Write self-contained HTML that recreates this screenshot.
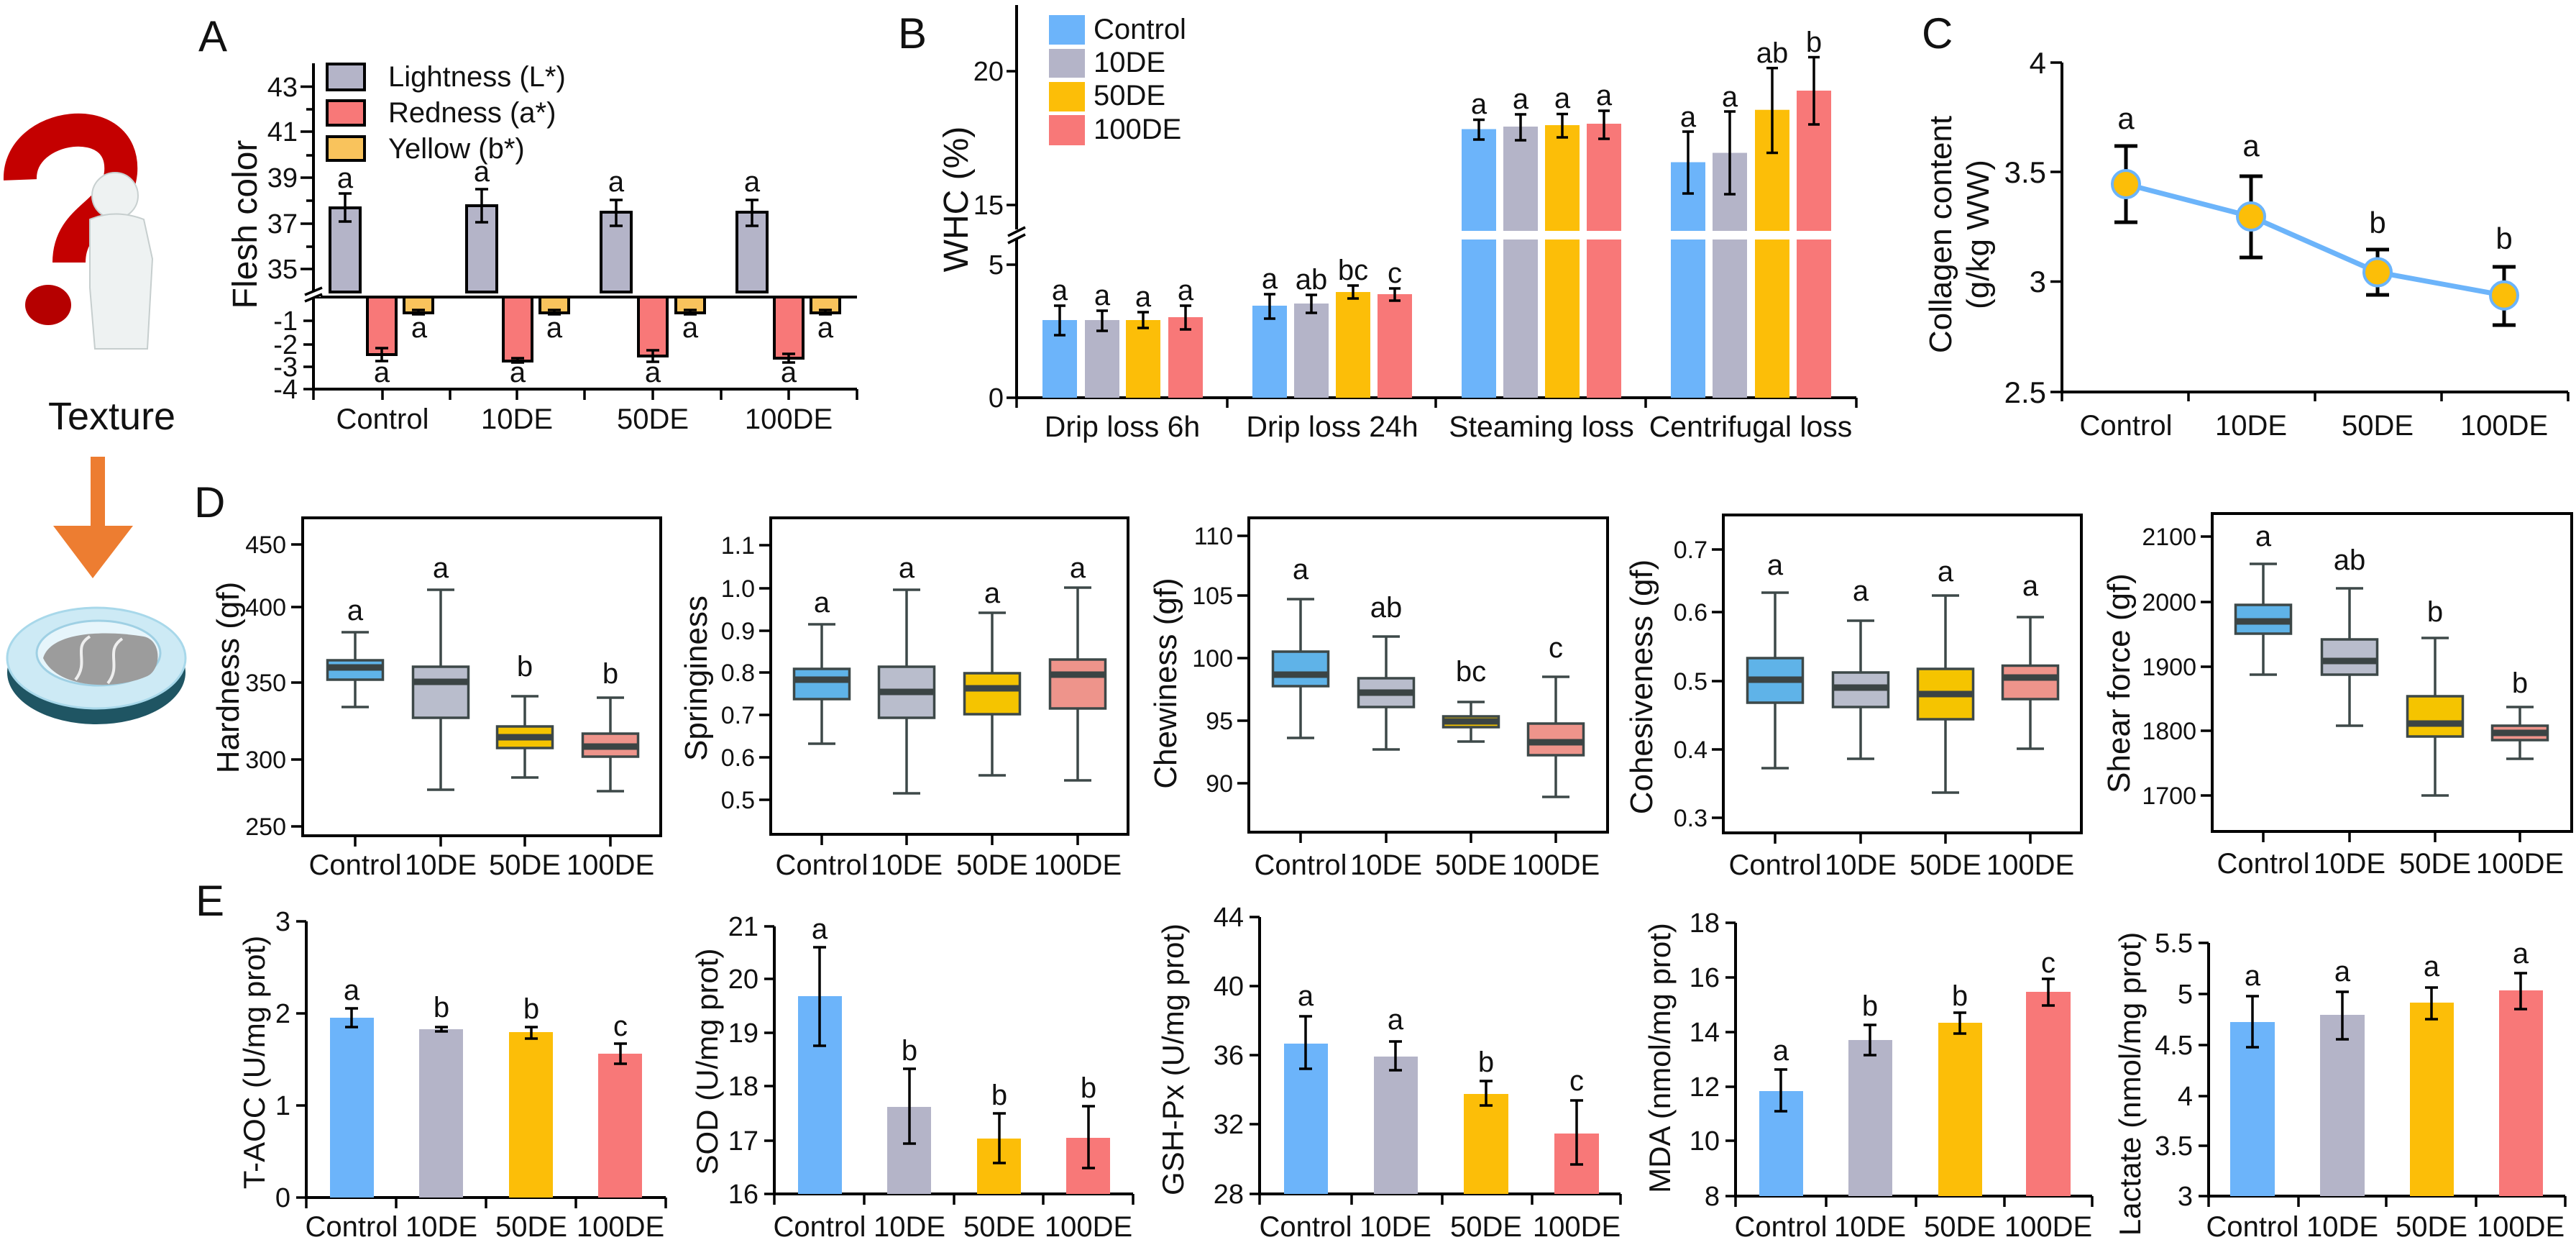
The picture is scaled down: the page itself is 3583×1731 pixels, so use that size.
<!DOCTYPE html>
<html><head><meta charset="utf-8"><style>
html,body{margin:0;padding:0;background:#fff}
svg{display:block}
text{font-family:"Liberation Sans",Arial,sans-serif;fill:#111}
.ax{stroke:#000;stroke-width:4;fill:none}
.tk{stroke:#000;stroke-width:3.5}
.eb{stroke:#000;stroke-width:3.5;fill:none}
.wk{stroke:#3d4848;stroke-width:3.5;fill:none}
.bx{stroke:#3d4848;stroke-width:3.5}
.md{stroke:#3b4444;stroke-width:9}
.t34{font-size:34px}.t38{font-size:38px}.t40{font-size:40px}.t42{font-size:42px}.t44{font-size:44px}.t60{font-size:60px}
.m{text-anchor:middle}.e{text-anchor:end}
</style></head><body>
<svg width="3583" height="1731" viewBox="0 0 3583 1731" xmlns="http://www.w3.org/2000/svg">

<!-- Left illustration -->
<path d="M28,250 C25,170 175,150 168,240 C162,300 96,300 96,365" stroke="#c40000" stroke-width="46" fill="none" stroke-linecap="butt"/>
<ellipse cx="67" cy="424" rx="32" ry="28" fill="#b50000"/>
<circle cx="160" cy="272" r="32" fill="#eef2f2" stroke="#c8d0d0" stroke-width="2"/>
<path d="M125,305 Q160,290 200,305 L212,360 L205,485 L132,485 L125,400 Z" fill="#eef2f2" stroke="#c6cece" stroke-width="2"/>
<text x="67" y="597" style="font-size:54px">Texture</text>
<rect x="126" y="635" width="20" height="97" fill="#ed7d31"/>
<polygon points="74,731 185,731 129,804" fill="#ed7d31"/>
<ellipse cx="134" cy="935" rx="124" ry="72" fill="#1f5563"/>
<ellipse cx="134" cy="915" rx="124" ry="70" fill="#cdeaf5" stroke="#a8d8ea" stroke-width="3"/>
<ellipse cx="137" cy="908" rx="86" ry="45" fill="#e6f5fb" stroke="#9fd0e4" stroke-width="3"/>
<path d="M60,915 C70,880 140,875 200,885 C225,890 225,930 205,940 C160,960 80,958 60,915 Z" fill="#9c9c9c"/>
<path d="M105,945 C125,920 100,900 125,885 M150,950 C170,925 145,905 170,888" stroke="#eee" stroke-width="4" fill="none"/>

<!-- Panel A -->
<text x="276" y="71" class="t60">A</text>
<rect x="455" y="89" width="52" height="36" fill="#b4b4c8" stroke="#000" stroke-width="4"/>
<rect x="455" y="140" width="52" height="34" fill="#f87878" stroke="#000" stroke-width="4"/>
<rect x="455" y="190" width="52" height="33" fill="#f9c35c" stroke="#000" stroke-width="4"/>
<text x="540" y="120" class="t40">Lightness (L*)</text>
<text x="540" y="170" class="t40">Redness (a*)</text>
<text x="540" y="220" class="t40">Yellow (b*)</text>
<path class="ax" d="M436,88 V405 M436,413 V541 H1192 M436,413 H1192"/>
<path class="tk" d="M418,120.5H436M418,183H436M418,247H436M418,311H436M418,374H436M426,152H436M426,216H436M426,279H436M426,343H436M422,446H436M422,479H436M422,510H436M422,541H436"/>
<path stroke="#fff" stroke-width="8" d="M426,409 H446"/>
<path class="tk" d="M424,410 L448,400 M424,419 L448,409"/>
<path class="tk" d="M436,541V556M532,541V556M626,541V556M719,541V556M813,541V556M908,541V556M1003,541V556M1097,541V556M1192,541V556"/>
<g class="t38 e"><text x="414" y="134">43</text><text x="414" y="196">41</text><text x="414" y="260">39</text><text x="414" y="324">37</text><text x="414" y="387">35</text><text x="414" y="459">-1</text><text x="414" y="492">-2</text><text x="414" y="523">-3</text><text x="414" y="554">-4</text></g>
<g fill="#b4b4c8" stroke="#000" stroke-width="4">
<rect x="459" y="289" width="42" height="117"/><rect x="649" y="286" width="42" height="120"/><rect x="836" y="295" width="42" height="111"/><rect x="1025" y="295" width="42" height="111"/></g>
<g fill="#f87878" stroke="#000" stroke-width="4">
<rect x="511" y="413" width="40" height="80"/><rect x="700" y="413" width="40" height="89"/><rect x="888" y="413" width="40" height="82"/><rect x="1077" y="413" width="40" height="85"/></g>
<g fill="#f9c35c" stroke="#000" stroke-width="4">
<rect x="562" y="413" width="40" height="22"/><rect x="751" y="413" width="40" height="22"/><rect x="940" y="413" width="40" height="22"/><rect x="1128" y="413" width="40" height="22"/></g>
<path class="eb" d="M480,269V308M471,269H489M471,308H489 M670,263V309M661,263H679M661,309H679 M857,278V314M848,278H866M848,314H866 M1046,278V314M1037,278H1055M1037,314H1055
M531,484V502M522,484H540M522,502H540 M720,498V504M711,498H729M711,504H729 M908,487V503M899,487H917M899,503H917 M1097,492V504M1088,492H1106M1088,504H1106
M582,431V437M573,431H591M573,437H591 M771,431V437M762,431H780M762,437H780 M960,431V437M951,431H969M951,437H969 M1148,431V437M1139,431H1157M1139,437H1157"/>
<g class="t40 m"><text x="480" y="261">a</text><text x="670" y="252">a</text><text x="857" y="266">a</text><text x="1046" y="266">a</text>
<text x="531" y="531">a</text><text x="720" y="531">a</text><text x="908" y="531">a</text><text x="1097" y="531">a</text>
<text x="583" y="469">a</text><text x="771" y="469">a</text><text x="960" y="469">a</text><text x="1148" y="469">a</text>
<text x="532" y="596">Control</text><text x="719" y="596">10DE</text><text x="908" y="596">50DE</text><text x="1097" y="596">100DE</text></g>
<text transform="translate(357,312) rotate(-90)" class="m" style="font-size:48px">Flesh color</text>

<!-- Panel B -->
<text x="1249" y="67" class="t60">B</text>
<path class="ax" d="M1414,7 V319 M1414,333 V553 H2582"/>
<path class="tk" d="M1400,99H1414M1400,285H1414M1400,368H1414M1400,553H1414 M1414,553V567M1707,553V567M1997,553V567M2289,553V567M2582,553V567"/>
<path class="tk" d="M1402,328 L1426,316 M1402,338 L1426,326"/>
<g class="t38 e"><text x="1396" y="112">20</text><text x="1396" y="298">15</text><text x="1396" y="381">5</text><text x="1396" y="566">0</text></g>
<rect x="1459" y="21" width="50" height="41" fill="#6cb4fa"/><rect x="1459" y="68" width="50" height="40" fill="#b4b4c8"/><rect x="1459" y="114" width="50" height="41" fill="#fcbe08"/><rect x="1459" y="160" width="50" height="42" fill="#f87878"/>
<g class="t40"><text x="1521" y="54">Control</text><text x="1521" y="100">10DE</text><text x="1521" y="146">50DE</text><text x="1521" y="193">100DE</text></g>
<g fill="#6cb4fa"><rect x="1450" y="445" width="48" height="108"/><rect x="1742" y="425" width="48" height="128"/><rect x="2033" y="333" width="48" height="220"/><rect x="2033" y="179.5" width="48" height="141.5"/><rect x="2324" y="333" width="48" height="220"/><rect x="2324" y="225.5" width="48" height="95.5"/></g>
<g fill="#b4b4c8"><rect x="1509" y="445" width="48" height="108"/><rect x="1800" y="422" width="48" height="131"/><rect x="2091" y="333" width="48" height="220"/><rect x="2091" y="176" width="48" height="145"/><rect x="2382" y="333" width="48" height="220"/><rect x="2382" y="212.5" width="48" height="108.5"/></g>
<g fill="#fcbe08"><rect x="1566" y="445" width="48" height="108"/><rect x="1858" y="406" width="48" height="147"/><rect x="2149" y="333" width="48" height="220"/><rect x="2149" y="174" width="48" height="147"/><rect x="2441" y="333" width="48" height="220"/><rect x="2441" y="152.7" width="48" height="168.3"/></g>
<g fill="#f87878"><rect x="1625" y="441" width="48" height="112"/><rect x="1916" y="409" width="48" height="144"/><rect x="2207" y="333" width="48" height="220"/><rect x="2207" y="172" width="48" height="149"/><rect x="2499" y="333" width="48" height="220"/><rect x="2499" y="126" width="48" height="195"/></g>
<path class="eb" d="M1474,425V466M1466,425H1482M1466,466H1482 M1533,432V460M1525,432H1541M1525,460H1541 M1590,434V456M1582,434H1598M1582,456H1598 M1649,425V458M1641,425H1657M1641,458H1657
M1766,409V443M1758,409H1774M1758,443H1774 M1824,410V435M1816,410H1832M1816,435H1832 M1882,397V415M1874,397H1890M1874,415H1890 M1940,401V418M1932,401H1948M1932,418H1948
M2057,166.5V194M2049,166.5H2065M2049,194H2065 M2115,159V195M2107,159H2123M2107,195H2123 M2173,158.5V191M2165,158.5H2181M2165,191H2181 M2231,154V193M2223,154H2239M2223,193H2239
M2348,183V269M2340,183H2356M2340,269H2356 M2406,155V270M2398,155H2414M2398,270H2414 M2465,94.6V212.5M2457,94.6H2473M2457,212.5H2473 M2523,79.5V173M2515,79.5H2531M2515,173H2531"/>
<g class="t40 m"><text x="1474" y="417">a</text><text x="1533" y="424">a</text><text x="1590" y="426">a</text><text x="1649" y="417">a</text>
<text x="1766" y="401">a</text><text x="1824" y="402">ab</text><text x="1882" y="389">bc</text><text x="1940" y="393">c</text>
<text x="2057" y="158">a</text><text x="2115" y="151">a</text><text x="2173" y="150">a</text><text x="2231" y="146">a</text>
<text x="2348" y="176">a</text><text x="2406" y="148">a</text><text x="2465" y="87">ab</text><text x="2523" y="72">b</text></g>
<g class="m" style="font-size:41px"><text x="1561" y="607">Drip loss 6h</text><text x="1853" y="607">Drip loss 24h</text><text x="2144" y="607">Steaming loss</text><text x="2435" y="607">Centrifugal loss</text></g>
<text transform="translate(1346,277) rotate(-90)" class="m" style="font-size:48px">WHC  (%)</text>

<!-- Panel C -->
<text x="2673" y="67" class="t60">C</text>
<path class="ax" d="M2868,87 V545 H3572"/>
<path class="tk" d="M2852,87H2868M2852,239H2868M2852,391.5H2868M2852,545H2868 M2868,545V558M3044,545V558M3220,545V558M3396,545V558M3572,545V558"/>
<g class="t42 e"><text x="2846" y="102">4</text><text x="2846" y="254">3.5</text><text x="2846" y="406">3</text><text x="2846" y="560">2.5</text></g>
<polyline points="2957,256 3131,301 3307,378.5 3483,410.7" fill="none" stroke="#6cb4fa" stroke-width="7"/>
<path class="eb" style="stroke-width:5" d="M2957,203V309M2941,203H2973M2941,309H2973 M3131,245V358M3115,245H3147M3115,358H3147 M3307,347V410M3291,347H3323M3291,410H3323 M3483,371V452M3467,371H3499M3467,452H3499"/>
<g fill="#fcbe08" stroke="#6cb4fa" stroke-width="4"><circle cx="2957" cy="256" r="19"/><circle cx="3131" cy="301" r="19"/><circle cx="3307" cy="378.5" r="19"/><circle cx="3483" cy="410.7" r="19"/></g>
<g class="t42 m"><text x="2957" y="179">a</text><text x="3131" y="217">a</text><text x="3307" y="324">b</text><text x="3483" y="346">b</text></g>
<g class="t40 m"><text x="2957" y="605">Control</text><text x="3131" y="605">10DE</text><text x="3307" y="605">50DE</text><text x="3483" y="605">100DE</text></g>
<text transform="translate(2714,326) rotate(-90)" class="m" style="font-size:44px">Collagen content</text>
<text transform="translate(2766,326) rotate(-90)" class="m" style="font-size:44px">(g/kg WW)</text>

<!-- Panel D -->
<text x="270" y="719" class="t60">D</text>
<!-- D1 Hardness -->
<rect x="421" y="720" width="498" height="442" class="ax"/>
<path class="tk" d="M405,757H421M405,844H421M405,949H421M405,1056H421M405,1149H421 M494,1162V1177M613,1162V1177M730,1162V1177M849,1162V1177"/>
<g class="t34 e"><text x="398" y="769">450</text><text x="398" y="856">400</text><text x="398" y="961">350</text><text x="398" y="1068">300</text><text x="398" y="1161">250</text></g>
<path class="wk" d="M494,879V983M475,879H513M475,983H513 M613,820V1098M594,820H632M594,1098H632 M730,968V1081M711,968H749M711,1081H749 M849,970V1100M830,970H868M830,1100H868"/>
<rect x="455.5" y="918" width="77" height="27" fill="#5fb3e8" class="bx"/><rect x="574.5" y="927" width="77" height="71" fill="#b9bdcc" class="bx"/><rect x="691.5" y="1010" width="77" height="30" fill="#f5c400" class="bx"/><rect x="810.5" y="1020" width="77" height="32" fill="#ee948b" class="bx"/>
<path class="md" d="M456,928H532M575,948H651M692,1025H768M811,1038H887"/>
<g class="t40 m"><text x="494" y="862">a</text><text x="613" y="803">a</text><text x="730" y="940">b</text><text x="849" y="950">b</text>
<text x="494" y="1216">Control</text><text x="613" y="1216">10DE</text><text x="730" y="1216">50DE</text><text x="849" y="1216">100DE</text></g>
<text transform="translate(332,942) rotate(-90)" class="m t44">Hardness  (gf)</text>
<!-- D2 Springiness -->
<rect x="1072" y="720" width="497" height="440" class="ax"/>
<path class="tk" d="M1056,758H1072M1056,818H1072M1056,877H1072M1056,935H1072M1056,994H1072M1056,1053H1072M1056,1112H1072 M1143,1160V1175M1261,1160V1175M1380,1160V1175M1499,1160V1175"/>
<g class="t34 e"><text x="1050" y="770">1.1</text><text x="1050" y="830">1.0</text><text x="1050" y="889">0.9</text><text x="1050" y="947">0.8</text><text x="1050" y="1006">0.7</text><text x="1050" y="1065">0.6</text><text x="1050" y="1124">0.5</text></g>
<path class="wk" d="M1143,868V1034M1124,868H1162M1124,1034H1162 M1261,820V1103M1242,820H1280M1242,1103H1280 M1380,852V1078M1361,852H1399M1361,1078H1399 M1499,817V1085M1480,817H1518M1480,1085H1518"/>
<rect x="1104.5" y="930" width="77" height="42" fill="#5fb3e8" class="bx"/><rect x="1222.5" y="927" width="77" height="71" fill="#b9bdcc" class="bx"/><rect x="1341.5" y="936" width="77" height="57" fill="#f5c400" class="bx"/><rect x="1460.5" y="917" width="77" height="68" fill="#ee948b" class="bx"/>
<path class="md" d="M1105,945H1181M1223,962H1299M1342,957H1418M1461,938H1537"/>
<g class="t40 m"><text x="1143" y="851">a</text><text x="1261" y="803">a</text><text x="1380" y="838">a</text><text x="1499" y="803">a</text>
<text x="1143" y="1216">Control</text><text x="1261" y="1216">10DE</text><text x="1380" y="1216">50DE</text><text x="1499" y="1216">100DE</text></g>
<text transform="translate(983,943) rotate(-90)" class="m t44">Springiness</text>
<!-- D3 Chewiness -->
<rect x="1737" y="720" width="499" height="437" class="ax"/>
<path class="tk" d="M1721,745H1737M1721,828H1737M1721,915H1737M1721,1002H1737M1721,1089H1737 M1809,1157V1172M1928,1157V1172M2046,1157V1172M2164,1157V1172"/>
<g class="t34 e"><text x="1715" y="757">110</text><text x="1715" y="840">105</text><text x="1715" y="927">100</text><text x="1715" y="1014">95</text><text x="1715" y="1101">90</text></g>
<path class="wk" d="M1809,833V1026M1790,833H1828M1790,1026H1828 M1928,885V1042M1909,885H1947M1909,1042H1947 M2046,976V1031M2027,976H2065M2027,1031H2065 M2164,941V1108M2145,941H2183M2145,1108H2183"/>
<rect x="1770.5" y="906" width="77" height="48" fill="#5fb3e8" class="bx"/><rect x="1889.5" y="943" width="77" height="40" fill="#b9bdcc" class="bx"/><rect x="2007.5" y="996" width="77" height="15" fill="#f5c400" class="bx"/><rect x="2125.5" y="1006" width="77" height="44" fill="#ee948b" class="bx"/>
<path class="md" d="M1771,938H1847M1890,963H1966M2008,1003H2084M2126,1032H2202"/>
<g class="t40 m"><text x="1809" y="805">a</text><text x="1928" y="858">ab</text><text x="2046" y="947">bc</text><text x="2164" y="914">c</text>
<text x="1809" y="1216">Control</text><text x="1928" y="1216">10DE</text><text x="2046" y="1216">50DE</text><text x="2164" y="1216">100DE</text></g>
<text transform="translate(1636,950) rotate(-90)" class="m t44">Chewiness  (gf)</text>
<!-- D4 Cohesiveness -->
<rect x="2397" y="716" width="498" height="442" class="ax"/>
<path class="tk" d="M2381,764H2397M2381,851H2397M2381,947H2397M2381,1042H2397M2381,1137H2397 M2469,1158V1173M2588,1158V1173M2706,1158V1173M2824,1158V1173"/>
<g class="t34 e"><text x="2375" y="776">0.7</text><text x="2375" y="863">0.6</text><text x="2375" y="959">0.5</text><text x="2375" y="1054">0.4</text><text x="2375" y="1149">0.3</text></g>
<path class="wk" d="M2469,824V1068M2450,824H2488M2450,1068H2488 M2588,863V1055M2569,863H2607M2569,1055H2607 M2706,828V1102M2687,828H2725M2687,1102H2725 M2824,858V1041M2805,858H2843M2805,1041H2843"/>
<rect x="2430.5" y="915" width="77" height="62" fill="#5fb3e8" class="bx"/><rect x="2549.5" y="935" width="77" height="48" fill="#b9bdcc" class="bx"/><rect x="2667.5" y="930" width="77" height="70" fill="#f5c400" class="bx"/><rect x="2785.5" y="925.5" width="77" height="46.5" fill="#ee948b" class="bx"/>
<path class="md" d="M2431,945H2507M2550,956H2626M2668,965H2744M2786,942H2862"/>
<g class="t40 m"><text x="2469" y="799">a</text><text x="2588" y="835">a</text><text x="2706" y="808">a</text><text x="2824" y="828">a</text>
<text x="2469" y="1216">Control</text><text x="2588" y="1216">10DE</text><text x="2706" y="1216">50DE</text><text x="2824" y="1216">100DE</text></g>
<text transform="translate(2298,955) rotate(-90)" class="m t44">Cohesiveness  (gf)</text>
<!-- D5 Shear force -->
<rect x="3077" y="714" width="500" height="442" class="ax"/>
<path class="tk" d="M3061,746H3077M3061,837H3077M3061,927H3077M3061,1016H3077M3061,1106H3077 M3148,1156V1171M3268,1156V1171M3387,1156V1171M3505,1156V1171"/>
<g class="t34 e"><text x="3055" y="758">2100</text><text x="3055" y="849">2000</text><text x="3055" y="939">1900</text><text x="3055" y="1028">1800</text><text x="3055" y="1118">1700</text></g>
<path class="wk" d="M3148,784V938M3129,784H3167M3129,938H3167 M3268,818V1009M3249,818H3287M3249,1009H3287 M3387,887V1106M3368,887H3406M3368,1106H3406 M3505,983V1055M3486,983H3524M3486,1055H3524"/>
<rect x="3109.5" y="841" width="77" height="40" fill="#5fb3e8" class="bx"/><rect x="3229.5" y="889" width="77" height="49" fill="#b9bdcc" class="bx"/><rect x="3348.5" y="968" width="77" height="56" fill="#f5c400" class="bx"/><rect x="3466.5" y="1009" width="77" height="20" fill="#ee948b" class="bx"/>
<path class="md" d="M3110,864H3186M3230,919H3306M3349,1006H3425M3467,1019H3543"/>
<g class="t40 m"><text x="3148" y="759">a</text><text x="3268" y="792">ab</text><text x="3387" y="864">b</text><text x="3505" y="963">b</text>
<text x="3148" y="1214">Control</text><text x="3268" y="1214">10DE</text><text x="3387" y="1214">50DE</text><text x="3505" y="1214">100DE</text></g>
<text transform="translate(2962,950) rotate(-90)" class="m t44">Shear  force  (gf)</text>

<!-- Panel E -->
<text x="272" y="1273" class="t60">E</text>
<!-- E1 -->
<path class="ax" d="M426,1281V1665H926"/>
<path class="tk" d="M412,1281H426M412,1409H426M412,1537H426M412,1665H426 M426,1665V1680M551,1665V1680M676,1665V1680M801,1665V1680M926,1665V1680"/>
<g class="t38 e"><text x="404" y="1294">3</text><text x="404" y="1422">2</text><text x="404" y="1550">1</text><text x="404" y="1678">0</text></g>
<rect x="459" y="1415" width="61" height="250" fill="#6cb4fa"/><rect x="583" y="1431" width="61" height="234" fill="#b4b4c8"/><rect x="708" y="1435" width="61" height="230" fill="#fcbe08"/><rect x="832" y="1465" width="61" height="200" fill="#f87878"/>
<path class="eb" d="M489,1402V1428M480,1402H498M480,1428H498 M614,1428V1434M605,1428H623M605,1434H623 M739,1428V1444M730,1428H748M730,1444H748 M863,1451V1479M854,1451H872M854,1479H872"/>
<g class="t40 m"><text x="489" y="1390">a</text><text x="614" y="1414">b</text><text x="739" y="1416">b</text><text x="863" y="1440">c</text>
<text x="489" y="1719">Control</text><text x="614" y="1719">10DE</text><text x="739" y="1719">50DE</text><text x="863" y="1719">100DE</text></g>
<text transform="translate(368,1477) rotate(-90)" class="m t42">T-AOC (U/mg prot)</text>
<!-- E2 -->
<path class="ax" d="M1077,1288V1660H1576"/>
<path class="tk" d="M1063,1288H1077M1063,1361H1077M1063,1436H1077M1063,1510H1077M1063,1586H1077M1063,1660H1077 M1077,1660V1675M1202,1660V1675M1327,1660V1675M1451,1660V1675M1576,1660V1675"/>
<g class="t38 e"><text x="1055" y="1301">21</text><text x="1055" y="1374">20</text><text x="1055" y="1449">19</text><text x="1055" y="1523">18</text><text x="1055" y="1599">17</text><text x="1055" y="1673">16</text></g>
<rect x="1110" y="1385" width="61" height="275" fill="#6cb4fa"/><rect x="1234" y="1539" width="61" height="121" fill="#b4b4c8"/><rect x="1359" y="1583" width="61" height="77" fill="#fcbe08"/><rect x="1483" y="1582" width="61" height="78" fill="#f87878"/>
<path class="eb" d="M1140,1317V1454M1131,1317H1149M1131,1454H1149 M1265,1486V1590M1256,1486H1274M1256,1590H1274 M1390,1548V1617M1381,1548H1399M1381,1617H1399 M1514,1538V1624M1505,1538H1523M1505,1624H1523"/>
<g class="t40 m"><text x="1140" y="1305">a</text><text x="1265" y="1474">b</text><text x="1390" y="1536">b</text><text x="1514" y="1526">b</text>
<text x="1140" y="1719">Control</text><text x="1265" y="1719">10DE</text><text x="1390" y="1719">50DE</text><text x="1514" y="1719">100DE</text></g>
<text transform="translate(998,1476) rotate(-90)" class="m t42">SOD (U/mg prot)</text>
<!-- E3 -->
<path class="ax" d="M1752,1275V1660H2254"/>
<path class="tk" d="M1738,1275H1752M1738,1371H1752M1738,1467H1752M1738,1563H1752M1738,1660H1752 M1752,1660V1675M1880,1660V1675M2006,1660V1675M2131,1660V1675M2254,1660V1675"/>
<g class="t38 e"><text x="1730" y="1288">44</text><text x="1730" y="1384">40</text><text x="1730" y="1480">36</text><text x="1730" y="1576">32</text><text x="1730" y="1673">28</text></g>
<rect x="1786" y="1451" width="61" height="209" fill="#6cb4fa"/><rect x="1911" y="1469" width="61" height="191" fill="#b4b4c8"/><rect x="2036" y="1521" width="62" height="139" fill="#fcbe08"/><rect x="2162" y="1576" width="62" height="84" fill="#f87878"/>
<path class="eb" d="M1816,1413V1486M1807,1413H1825M1807,1486H1825 M1941,1448V1488M1932,1448H1950M1932,1488H1950 M2067,1503V1537M2058,1503H2076M2058,1537H2076 M2193,1530V1619M2184,1530H2202M2184,1619H2202"/>
<g class="t40 m"><text x="1816" y="1398">a</text><text x="1941" y="1431">a</text><text x="2067" y="1490">b</text><text x="2193" y="1516">c</text>
<text x="1816" y="1719">Control</text><text x="1941" y="1719">10DE</text><text x="2067" y="1719">50DE</text><text x="2193" y="1719">100DE</text></g>
<text transform="translate(1646,1473) rotate(-90)" class="m t42">GSH-Px (U/mg prot)</text>
<!-- E4 -->
<path class="ax" d="M2414,1283V1663H2910"/>
<path class="tk" d="M2400,1283H2414M2400,1359H2414M2400,1435H2414M2400,1511H2414M2400,1586H2414M2400,1663H2414 M2414,1663V1678M2540,1663V1678M2665,1663V1678M2788,1663V1678M2910,1663V1678"/>
<g class="t38 e"><text x="2392" y="1296">18</text><text x="2392" y="1372">16</text><text x="2392" y="1448">14</text><text x="2392" y="1524">12</text><text x="2392" y="1599">10</text><text x="2392" y="1676">8</text></g>
<rect x="2447" y="1517" width="61" height="146" fill="#6cb4fa"/><rect x="2571" y="1446" width="61" height="217" fill="#b4b4c8"/><rect x="2696" y="1422" width="61" height="241" fill="#fcbe08"/><rect x="2818" y="1379" width="62" height="284" fill="#f87878"/>
<path class="eb" d="M2477,1487V1545M2468,1487H2486M2468,1545H2486 M2601,1425V1467M2592,1425H2610M2592,1467H2610 M2726,1408V1437M2717,1408H2735M2717,1437H2735 M2849,1361V1398M2840,1361H2858M2840,1398H2858"/>
<g class="t40 m"><text x="2477" y="1474">a</text><text x="2601" y="1412">b</text><text x="2726" y="1398">b</text><text x="2849" y="1352">c</text>
<text x="2477" y="1719">Control</text><text x="2601" y="1719">10DE</text><text x="2726" y="1719">50DE</text><text x="2849" y="1719">100DE</text></g>
<text transform="translate(2323,1471) rotate(-90)" class="m t42">MDA (nmol/mg prot)</text>
<!-- E5 -->
<path class="ax" d="M3072,1311V1663H3568"/>
<path class="tk" d="M3058,1311H3072M3058,1382H3072M3058,1453H3072M3058,1524H3072M3058,1593H3072M3058,1663H3072 M3072,1663V1678M3197,1663V1678M3319,1663V1678M3444,1663V1678M3568,1663V1678"/>
<g class="t38 e"><text x="3050" y="1324">5.5</text><text x="3050" y="1395">5</text><text x="3050" y="1466">4.5</text><text x="3050" y="1537">4</text><text x="3050" y="1606">3.5</text><text x="3050" y="1676">3</text></g>
<rect x="3102" y="1421" width="62" height="242" fill="#6cb4fa"/><rect x="3227" y="1411" width="62" height="252" fill="#b4b4c8"/><rect x="3352" y="1394" width="61" height="269" fill="#fcbe08"/><rect x="3476" y="1377" width="61" height="286" fill="#f87878"/>
<path class="eb" d="M3133,1385V1456M3124,1385H3142M3124,1456H3142 M3258,1379V1445M3249,1379H3267M3249,1445H3267 M3382,1373V1417M3373,1373H3391M3373,1417H3391 M3506,1353V1403M3497,1353H3515M3497,1403H3515"/>
<g class="t40 m"><text x="3133" y="1370">a</text><text x="3258" y="1364">a</text><text x="3382" y="1357">a</text><text x="3506" y="1339">a</text>
<text x="3133" y="1719">Control</text><text x="3258" y="1719">10DE</text><text x="3382" y="1719">50DE</text><text x="3506" y="1719">100DE</text></g>
<text transform="translate(2977,1507) rotate(-90)" class="m t42">Lactate (nmol/mg prot)</text>
</svg>
</body></html>
